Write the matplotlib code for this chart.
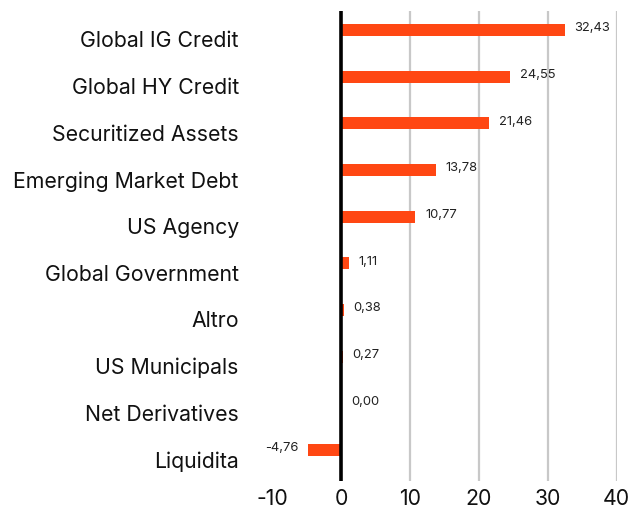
import matplotlib
matplotlib.use("Agg")
import matplotlib.pyplot as plt
import matplotlib.transforms as mtransforms

plt.rcParams['font.family'] = ['Inter', 'DejaVu Sans']
plt.rcParams['axes.unicode_minus'] = False

# Data
categories = ['Global IG Credit', 'Global HY Credit', 'Securitized Assets',
              'Emerging Market Debt', 'US Agency', 'Global Government',
              'Altro', 'US Municipals', 'Net Derivatives', 'Liquidita']
values = [32.43, 24.55, 21.46, 13.78, 10.77, 1.11, 0.38, 0.27, 0.00, -4.76]
xticks = [-10, 0, 10, 20, 30, 40]
grid_x = [10, 20, 30, 40]

bar_color = '#ff4713'

fig = plt.figure(figsize=(6.3, 5.1), dpi=100)
ax = fig.add_axes([0.432, 0.055, 0.547, 0.921])

ypos = list(range(len(categories)))
ax.barh(ypos, values, height=0.26, color=bar_color, zorder=3)

for x in grid_x:
    ax.axvline(x, color='#c8c8c8', linewidth=1.6, zorder=1)
ax.axvline(0, color='black', linewidth=2.6, zorder=4)

for y, v in zip(ypos, values):
    label = f'{v:.2f}'.replace('.', ',')
    if v < 0:
        ax.annotate(label, (v, y), xytext=(-7, 2), textcoords='offset points',
                    ha='right', va='center', fontsize=9.3, color='#222222')
    else:
        ax.annotate(label, (v, y), xytext=(7, 2), textcoords='offset points',
                    ha='left', va='center', fontsize=9.3, color='#222222')

ax.set_xlim(-10, 40)
ax.set_ylim(9.66, -0.4)
ax.set_xticks(xticks)
ax.set_xticklabels([str(t) for t in xticks])
ax.set_yticks(ypos)
ax.set_yticklabels(categories)
ax.tick_params(axis='both', length=0, labelsize=15.3, colors='#111111')
ax.tick_params(axis='y', pad=24)
ax.tick_params(axis='x', pad=5)

# category labels sit a little below their bars in the reference
shift = mtransforms.ScaledTranslation(0, -6 / 72, fig.dpi_scale_trans)
for lbl in ax.get_yticklabels():
    lbl.set_transform(lbl.get_transform() + shift)

for s in ax.spines.values():
    s.set_visible(False)

fig.savefig('out.png', dpi=100)
